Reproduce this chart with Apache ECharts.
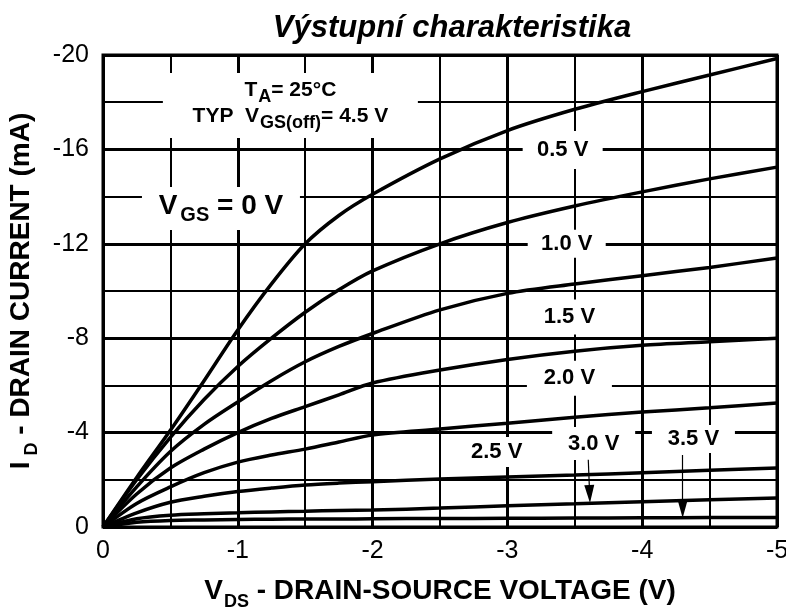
<!DOCTYPE html>
<html><head><meta charset="utf-8">
<script src="https://cdn.jsdelivr.net/npm/echarts@6/dist/echarts.min.js"></script>
<style>html,body{margin:0;padding:0;background:#fff}#c{width:786px;height:610px}</style>
</head><body><div id="c"></div>
<script>
// ---- data ----
const vds = [0, -0.25, -0.5, -0.75, -1, -1.25, -1.5, -1.75, -2, -2.5, -3, -3.5, -4, -4.5, -5];
const idVgs00 = [0, -2.1, -4.1, -6.2, -8.35, -10.3, -12.0, -13.2, -14.1, -15.6, -16.8, -17.7, -18.45, -19.15, -19.85];
const idVgs05 = [0, -2.0, -3.8, -5.4, -6.8, -8.0, -9.1, -10.05, -10.85, -12.0, -12.9, -13.6, -14.2, -14.75, -15.25];
const idVgs10 = [0, -1.7, -3.2, -4.35, -5.3, -6.2, -7.0, -7.65, -8.2, -9.2, -9.9, -10.3, -10.65, -11.0, -11.4];
const idVgs15 = [0, -1.4, -2.5, -3.3, -4.0, -4.6, -5.1, -5.6, -6.1, -6.65, -7.1, -7.45, -7.7, -7.85, -8.0];
const idVgs20 = [0, -1.0, -1.7, -2.3, -2.75, -3.05, -3.3, -3.6, -3.9, -4.15, -4.4, -4.65, -4.87, -5.05, -5.25];
const idVgs25 = [0, -0.6, -1.05, -1.3, -1.5, -1.65, -1.78, -1.86, -1.92, -2.03, -2.12, -2.2, -2.3, -2.4, -2.5];
const idVgs30 = [0, -0.35, -0.5, -0.56, -0.6, -0.64, -0.67, -0.7, -0.72, -0.8, -0.9, -0.98, -1.07, -1.15, -1.23];
const idVgs35 = [0, -0.2, -0.28, -0.3, -0.32, -0.33, -0.34, -0.34, -0.35, -0.36, -0.37, -0.38, -0.39, -0.4, -0.4];
const curves = [idVgs00, idVgs05, idVgs10, idVgs15, idVgs20, idVgs25, idVgs30, idVgs35];
const curveNames = ['0 V', '0.5 V', '1.0 V', '1.5 V', '2.0 V', '2.5 V', '3.0 V', '3.5 V'];

// curve labels: text and anchor (V, mA)
const labelTexts = ['0.5 V', '1.0 V', '1.5 V', '2.0 V', '2.5 V', '3.0 V', '3.5 V'];
const labelAt = [[-3.41, -15.97], [-3.44, -12.0], [-3.46, -8.9], [-3.46, -6.3], [-2.92, -3.18], [-3.64, -3.54], [-4.38, -3.73]];
// arrows from labels to curves (V, mA)
const arrows = [[[-3.6, -2.85], [-3.61, -1.4]], [[-4.3, -3.05], [-4.3, -0.76]]];
// other notes
const vgsNoteAt = [-0.875, -13.5];
const condNoteAt = [-1.39, -17.86];
const xTickLabels = ['0', '-1', '-2', '-3', '-4', '-5'];
const yTickLabels = ['0', '-4', '-8', '-12', '-16', '-20'];

const FONT = '"Liberation Sans", Arial, sans-serif';
const INK = '#000';

const boxes = [
  {c: labelAt[0], s: [80, 38]}, {c: labelAt[1], s: [78, 28]}, {c: labelAt[2], s: [80, 35]},
  {c: labelAt[3], s: [85, 35]}, {c: labelAt[4], s: [64, 30]}, {c: labelAt[5], s: [83, 33]},
  {c: labelAt[6], s: [83, 28]}, {c: vgsNoteAt, s: [158, 43]}, {c: condNoteAt, s: [255, 65]}
];

const series = curves.map((ys, i) => ({
  name: curveNames[i], type: 'line', data: vds.map((v, k) => [v, ys[k]]),
  showSymbol: false, smooth: 0.3, z: 3,
  lineStyle: {color: '#000', width: 3.5}, silent: true
}));

series.push({
  type: 'scatter', z: 4, silent: true,
  data: boxes.map(b => ({value: b.c, symbolSize: b.s})),
  symbol: 'rect', itemStyle: {color: '#fff', opacity: 1}
});

const sub = {fontFamily: FONT, fontWeight: 'bold', color: INK, verticalAlign: 'top'};
series.push({
  type: 'scatter', z: 5, silent: true, symbolSize: 0,
  itemStyle: {opacity: 1, color: '#000'},
  data: labelTexts.map((t, i) => ({value: labelAt[i], label: {formatter: t}}))
    .concat([
      {value: vgsNoteAt, label: {formatter: '{b|V}{s|GS}{b| = 0 V}'}},
      {value: condNoteAt, label: {formatter: '{m|T}{t|A}{m|= 25°C}\n{m|TYP  V}{t|GS(off)}{m|= 4.5 V}'}}
    ]),
  label: {
    show: true, position: 'inside', fontFamily: FONT, fontWeight: 'bold', fontSize: 22, color: INK, opacity: 1,
    rich: {
      b: Object.assign({fontSize: 28, lineHeight: 32}, sub),
      s: Object.assign({fontSize: 20, lineHeight: 22, padding: [13, 0, 0, 3]}, sub),
      m: Object.assign({fontSize: 21, lineHeight: 26}, sub),
      t: Object.assign({fontSize: 18, lineHeight: 20, padding: [9, 0, 0, 1]}, sub)
    }
  },
  markLine: {
    silent: true, symbol: ['none', 'triangle'], symbolSize: [10, 18],
    lineStyle: {color: '#000', width: 1.2, type: 'solid', opacity: 1}, label: {show: false},
    data: arrows.map(a => [{coord: a[0]}, {coord: a[1]}])
  }
});

const chart = echarts.init(document.getElementById('c'), null, {renderer: 'canvas'});
chart.setOption({
  animation: false,
  backgroundColor: '#fff',
  title: {
    text: 'Výstupní charakteristika', left: 447, top: 8, textAlign: 'center',
    textStyle: {fontFamily: FONT, fontWeight: 'bold', fontStyle: 'italic', fontSize: 31, color: INK}
  },
  grid: {left: 103, right: 9, top: 55, bottom: 83, containLabel: false, outerBoundsMode: 'none',
    show: true, borderColor: '#000', borderWidth: 3, backgroundColor: 'transparent'},
  xAxis: {
    type: 'value', min: -5, max: 0, interval: 1, inverse: true,
    axisLine: {show: false}, axisTick: {show: false},
    axisLabel: {fontFamily: FONT, fontSize: 25, color: INK, margin: 12,
      formatter: v => xTickLabels[Math.round(-v)]},
    splitLine: {show: true, lineStyle: {color: '#000', width: 3}},
    minorTick: {show: false, splitNumber: 2},
    minorSplitLine: {show: true, lineStyle: {color: '#000', width: 2}},
    name: '{v|V}{s|DS}{t| - DRAIN-SOURCE VOLTAGE (V)}', nameLocation: 'middle', nameGap: 50,
    nameTextStyle: {rich: {
      v: {fontFamily: FONT, fontWeight: 'bold', fontSize: 28, color: INK, lineHeight: 32, verticalAlign: 'top'},
      s: {fontFamily: FONT, fontWeight: 'bold', fontSize: 18, color: INK, lineHeight: 22, padding: [16, 0, 0, 1], verticalAlign: 'top'},
      t: {fontFamily: FONT, fontWeight: 'bold', fontSize: 28, color: INK, lineHeight: 32, verticalAlign: 'top'}
    }}
  },
  yAxis: {
    type: 'value', min: -20, max: 0, interval: 4, inverse: true,
    axisLine: {show: false}, axisTick: {show: false},
    axisLabel: {fontFamily: FONT, fontSize: 25, color: INK, margin: 14,
      formatter: v => yTickLabels[Math.round(-v / 4)]},
    splitLine: {show: true, lineStyle: {color: '#000', width: 3}},
    minorTick: {show: false, splitNumber: 2},
    minorSplitLine: {show: true, lineStyle: {color: '#000', width: 2}},
    name: '{v|I}{s| D}{t| - DRAIN CURRENT (mA)}', nameLocation: 'middle', nameGap: 64, nameRotate: 90,
    nameTextStyle: {rich: {
      v: {fontFamily: FONT, fontWeight: 'bold', fontSize: 28, color: INK, lineHeight: 32, verticalAlign: 'top'},
      s: {fontFamily: FONT, fontWeight: 'bold', fontSize: 18, color: INK, lineHeight: 22, padding: [16, 0, 0, 1], verticalAlign: 'top'},
      t: {fontFamily: FONT, fontWeight: 'bold', fontSize: 28, color: INK, lineHeight: 32, verticalAlign: 'top'}
    }}
  },
  series: series
});
</script>
</body></html>
